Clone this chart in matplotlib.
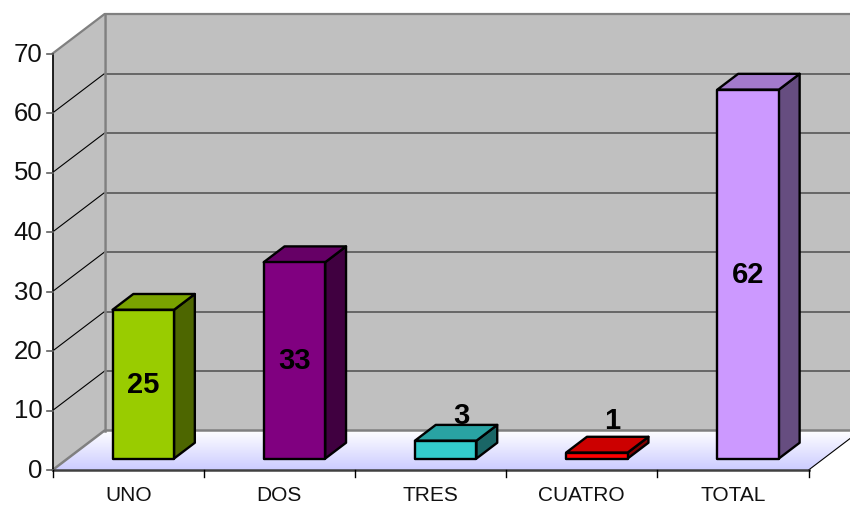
#!/usr/bin/env python3
import matplotlib
matplotlib.use('Agg')
import matplotlib.pyplot as plt
from matplotlib.patches import Polygon
import numpy as np

# ======================
# VARIABLES
# ======================

categories = ['UNO', 'DOS', 'TRES', 'CUATRO', 'TOTAL']
values = [25, 33, 3, 1, 62]
front_colors = ['#99CC00', '#800080', '#33CCCC', '#FF0000', '#CC99FF']
y_ticks = [0, 10, 20, 30, 40, 50, 60, 70]

# Pixel scale of the drawing
fig_w, fig_h = 850, 506
x0_px, cat_px = 128.2, 151.2
y0_px, val_px = 471.0, 5.95

# Box depth in axis units
depth_x = 52 / cat_px
depth_y = 39.5 / val_px
bar_width = 61.5 / cat_px
bar_start = 0.29   # how far back the bars sit
bar_depth = 0.40

# Height of the outside labels above the front top edge, in pixels
outside_gap = {'TRES': 26, 'CUATRO': 33}

plt.rcParams['font.family'] = ['Liberation Sans', 'DejaVu Sans']

# ======================
# FUNCTIONS
# ======================

def shade(color, k):
    r, g, b = matplotlib.colors.to_rgb(color)
    return (r * k, g * k, b * k)


def draw_box(ax, i, value, color):
    # offset front face, then side and top faces going back
    left = i - bar_width / 2 + bar_start * depth_x
    right = left + bar_width
    base = bar_start * depth_y
    top = base + value
    dx, dy = bar_depth * depth_x, bar_depth * depth_y
    style = dict(edgecolor='black', linewidth=1.7, joinstyle='round', zorder=5)
    ax.add_patch(Polygon([(right, base), (right + dx, base + dy), (right + dx, top + dy), (right, top)],
                         facecolor=shade(color, 0.5), **style))
    ax.add_patch(Polygon([(left, top), (right, top), (right + dx, top + dy), (left + dx, top + dy)],
                         facecolor=shade(color, 0.8), **style))
    ax.add_patch(Polygon([(left, base), (right, base), (right, top), (left, top)],
                         facecolor=color, **style))
    return (left + right) / 2, base, top


def generate_graph():
    fig = plt.figure(figsize=(fig_w / 100, fig_h / 100), dpi=100)
    ax = fig.add_axes([0, 0, 1, 1])
    ax.axis('off')

    x_left, x_right = -0.5, len(categories) - 0.5
    y_top = y_ticks[-1]
    wall = '#C0C0C0'
    edge = '#808080'

    # Side wall and back wall
    ax.add_patch(Polygon([(x_left, 0), (x_left + depth_x, depth_y), (x_left + depth_x, y_top + depth_y), (x_left, y_top)],
                         facecolor=wall, edgecolor='none', zorder=1))
    ax.add_patch(Polygon([(x_left + depth_x, depth_y), (x_right + depth_x, depth_y),
                          (x_right + depth_x, y_top + depth_y), (x_left + depth_x, y_top + depth_y)],
                         facecolor=wall, edgecolor='none', zorder=1))

    # Floor with white to lavender gradient
    floor = Polygon([(x_left, 0), (x_right, 0), (x_right + depth_x, depth_y), (x_left + depth_x, depth_y)],
                    facecolor='none', edgecolor='none', zorder=2)
    ax.add_patch(floor)
    grad = np.linspace(0, 1, 64).reshape(-1, 1)
    cmap = matplotlib.colors.LinearSegmentedColormap.from_list('floor', ['#CCCCFF', '#FFFFFF'])
    img = ax.imshow(grad, extent=(x_left, x_right + depth_x, 0, depth_y), origin='lower',
                    cmap=cmap, aspect='auto', zorder=2)
    img.set_clip_path(floor)
    ax.set_xlim(-x0_px / cat_px, (fig_w - x0_px) / cat_px)
    ax.set_ylim((y0_px - fig_h) / val_px, y0_px / val_px)

    # Gridlines along side wall and back wall
    for v in y_ticks[1:-1]:
        ax.plot([x_left, x_left + depth_x], [v, v + depth_y], color='black', lw=0.8, zorder=3)
        ax.plot([x_left + depth_x, x_right + depth_x], [v + depth_y, v + depth_y], color='#666666', lw=1.4, zorder=3)

    # Wall outlines
    ax.plot([x_left, x_left + depth_x, x_right + depth_x], [y_top, y_top + depth_y, y_top + depth_y],
            color=edge, lw=1.6, zorder=3)
    ax.plot([x_left + depth_x, x_left + depth_x], [depth_y, y_top + depth_y], color=edge, lw=1.8, zorder=3)
    ax.plot([x_left, x_left + depth_x, x_right + depth_x], [0, depth_y, depth_y], color=edge, lw=1.8, zorder=3)
    ax.plot([x_right, x_right + depth_x], [0, depth_y], color='black', lw=0.8, zorder=3)

    # Axis lines and ticks
    tick_x = 6 / cat_px
    tick_y = 7 / val_px
    ax.plot([x_left, x_left], [0, y_top], color='black', lw=1.2, zorder=4)
    ax.plot([x_left, x_right], [0, 0], color='#404040', lw=1.8, zorder=4)
    for v in y_ticks:
        ax.plot([x_left - tick_x, x_left], [v, v], color='#606060', lw=1.2, zorder=4)
        ax.text(x_left - 10 / cat_px, v, str(v), ha='right', va='center', fontsize=18.5, color='#111111')
    for i in range(len(categories) + 1):
        ax.plot([x_left + i, x_left + i], [0, -tick_y], color='black', lw=1.0, zorder=4)
    for i, name in enumerate(categories):
        ax.text(i, -24.5 / val_px, name, ha='center', va='center', fontsize=15, color='#111111')

    # Bars and their value labels
    for i, (name, value, color) in enumerate(zip(categories, values, front_colors)):
        xc, base, top = draw_box(ax, i, value, color)
        if name in outside_gap:
            # thin bars carry the label above the top face
            ax.text(xc + 15.5 / cat_px, top + outside_gap[name] / val_px, str(value), ha='center', va='center',
                    fontsize=21, fontweight='bold', color='black', zorder=6)
        else:
            ax.text(xc, (base + top) / 2, str(value), ha='center', va='center',
                    fontsize=21, fontweight='bold', color='black', zorder=6)

    fig.savefig('out.png', dpi=100)


# ======================
# MAIN
# ======================

if __name__ == '__main__':
    generate_graph()
